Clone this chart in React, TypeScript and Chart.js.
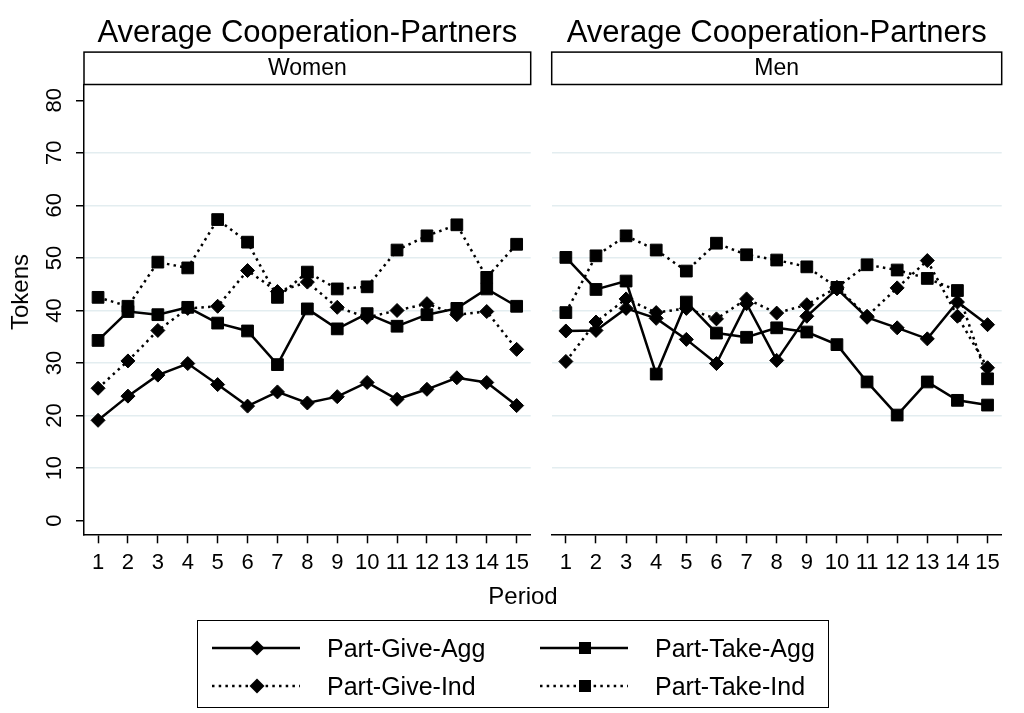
import React, { useEffect, useRef } from 'react';
import { Chart, registerables } from 'chart.js';

Chart.register(...registerables);

const FONT = "'Liberation Sans', Arial, sans-serif";
const GRID = '#e3edf0';

const periods = [1, 2, 3, 4, 5, 6, 7, 8, 9, 10, 11, 12, 13, 14, 15];
const yTicks = [0, 10, 20, 30, 40, 50, 60, 70, 80];
const seriesNames = ['Part-Give-Agg', 'Part-Take-Agg', 'Part-Give-Ind', 'Part-Take-Ind'];
const panelTitle = 'Average Cooperation-Partners';
const panelLabels = ['Women', 'Men'];
const xTitle = 'Period';
const yTitle = 'Tokens';

// Women
const womenGiveAgg = [19.1, 23.7, 27.7, 29.9, 25.9, 21.8, 24.5, 22.4, 23.6, 26.3, 23.1, 25.0, 27.2, 26.3, 21.9];
const womenTakeAgg = [34.3, 39.8, 39.2, 40.6, 37.6, 36.1, 29.7, 40.3, 36.5, 39.4, 37.0, 39.2, 40.4, 44.1, 40.8];
const womenGiveInd = [25.2, 30.4, 36.2, 40.4, 40.8, 47.6, 43.6, 45.4, 40.6, 38.7, 40.0, 41.3, 39.2, 39.8, 32.6];
const womenTakeInd = [42.5, 40.8, 49.2, 48.1, 57.3, 53.0, 42.5, 47.3, 44.1, 44.5, 51.5, 54.2, 56.3, 46.3, 52.6];

// Men
const menGiveAgg = [36.1, 36.2, 40.4, 38.5, 34.5, 29.9, 41.3, 30.5, 38.9, 44.1, 38.7, 36.7, 34.6, 41.6, 37.3];
const menTakeAgg = [50.1, 44.0, 45.6, 27.9, 41.6, 35.7, 34.9, 36.7, 35.9, 33.5, 26.4, 20.1, 26.4, 22.9, 22.0];
const menGiveInd = [30.3, 37.8, 42.2, 39.6, 40.4, 38.4, 42.2, 39.5, 41.1, 44.4, 38.9, 44.3, 49.5, 38.9, 29.1];
const menTakeInd = [39.6, 50.4, 54.2, 51.5, 47.5, 52.8, 50.6, 49.6, 48.3, 44.4, 48.7, 47.7, 46.1, 43.8, 27.0];

const DOT = [2.5, 4.2];
const seriesStyles = [
  { pointStyle: 'rectRot', radius: 7, dash: [] as number[] },
  { pointStyle: 'rect', radius: 8.3, dash: [] as number[] },
  { pointStyle: 'rectRot', radius: 7, dash: DOT },
  { pointStyle: 'rect', radius: 8.3, dash: DOT },
];

const CANVAS_H = 585;
const AREA_BOTTOM = 534.3;

const stripBoxPlugin = {
  id: 'stripBox',
  afterDraw(chart: any, _args: any, opts: any) {
    const box = chart.boxes.find((b: any) => b && b.options && b.options.text === opts.text);
    if (!box) return;
    const ctx = chart.ctx;
    ctx.save();
    ctx.strokeStyle = '#000';
    ctx.lineWidth = 1.5;
    ctx.strokeRect(box.left, box.top, box.right - box.left, box.bottom - box.top);
    ctx.restore();
  },
};

function buildConfig(strip: string, vals: number[][], isLeft: boolean, padRight: number, yWidth: number): any {
  const datasets = vals.map((v, i) => ({
    label: seriesNames[i],
    data: periods.map((p, j) => ({ x: p, y: v[j] })),
    borderColor: '#000',
    backgroundColor: '#000',
    borderWidth: 2.5,
    borderDash: seriesStyles[i].dash,
    borderCapStyle: 'butt',
    pointStyle: seriesStyles[i].pointStyle,
    pointRadius: seriesStyles[i].radius,
    pointBorderWidth: 1,
    pointBackgroundColor: '#000',
    pointBorderColor: '#000',
    tension: 0,
    fill: false,
  }));
  return {
    type: 'line',
    data: { datasets },
    plugins: [stripBoxPlugin],
    options: {
      animation: false,
      responsive: false,
      events: [],
      layout: { padding: { top: 0, left: 0, bottom: 0, right: padRight } },
      plugins: {
        legend: { display: false },
        tooltip: { enabled: false },
        title: {
          display: true,
          text: panelTitle,
          fullSize: false,
          color: '#000',
          font: { family: FONT, size: 31, weight: 'normal' },
          padding: { top: 14.5, bottom: 0.4 },
        },
        subtitle: {
          display: true,
          text: strip,
          fullSize: false,
          color: '#000',
          font: { family: FONT, size: 23, weight: 'normal' },
          padding: { top: 2.4, bottom: 2.4 },
        },
        stripBox: { text: strip },
      },
      scales: {
        x: {
          type: 'linear',
          min: 0.53,
          max: 15.47,
          afterBuildTicks: (s: any) => {
            s.ticks = periods.map((v) => ({ value: v }));
          },
          afterFit: (s: any) => {
            s.height = CANVAS_H - AREA_BOTTOM;
          },
          ticks: {
            autoSkip: false,
            maxRotation: 0,
            minRotation: 0,
            padding: 6.5,
            color: '#000',
            font: { family: FONT, size: 22 },
            callback: (v: any) => String(v),
          },
          grid: {
            display: true,
            drawOnChartArea: false,
            drawTicks: true,
            tickLength: 9,
            tickWidth: 1.5,
            tickColor: '#000',
            color: '#000',
          },
          border: { display: true, color: '#000', width: 1.5 },
        },
        y: {
          type: 'linear',
          min: -2.59,
          max: 83.0,
          afterBuildTicks: (s: any) => {
            s.ticks = yTicks.map((v) => ({ value: v }));
          },
          afterFit: (s: any) => {
            s.width = yWidth;
          },
          ticks: {
            display: isLeft,
            minRotation: 90,
            maxRotation: 90,
            crossAlign: 'center',
            padding: 8.8,
            color: '#000',
            font: { family: FONT, size: 22 },
            callback: (v: any) => String(v),
          },
          grid: {
            color: (ctx: any) =>
              ctx.tick && (ctx.tick.value === yTicks[0] || ctx.tick.value === yTicks[yTicks.length - 1])
                ? 'rgba(0,0,0,0)'
                : GRID,
            lineWidth: 1.5,
            drawTicks: isLeft,
            tickLength: 8,
            tickColor: '#000',
            tickWidth: 1.5,
          },
          border: { display: isLeft, color: '#000', width: 1.5 },
        },
      },
    },
  };
}

function LegendSample({ x, y, dashed, diamond }: { x: number; y: number; dashed: boolean; diamond: boolean }) {
  const mid = x + 45;
  return (
    <g>
      <line
        x1={x}
        y1={y}
        x2={x + 88}
        y2={y}
        stroke="#000"
        strokeWidth={2.5}
        strokeDasharray={dashed ? DOT.join(' ') : undefined}
      />
      {diamond ? (
        <polygon points={`${mid - 7.5},${y} ${mid},${y - 7.5} ${mid + 7.5},${y} ${mid},${y + 7.5}`} fill="#000" />
      ) : (
        <rect x={mid - 6} y={y - 6} width={12} height={12} fill="#000" />
      )}
    </g>
  );
}

export default function App() {
  const leftRef = useRef<HTMLCanvasElement>(null);
  const rightRef = useRef<HTMLCanvasElement>(null);

  useEffect(() => {
    document.body.style.margin = '0';
    const c1 = new Chart(
      leftRef.current as HTMLCanvasElement,
      buildConfig(panelLabels[0], [womenGiveAgg, womenTakeAgg, womenGiveInd, womenTakeInd], true, 7, 84)
    );
    const c2 = new Chart(
      rightRef.current as HTMLCanvasElement,
      buildConfig(panelLabels[1], [menGiveAgg, menTakeAgg, menGiveInd, menTakeInd], false, 22.3, 11.7)
    );
    return () => {
      c1.destroy();
      c2.destroy();
    };
  }, []);

  const legendCols = [212, 540];
  const legendRows = [648, 686];
  const legendItems = seriesNames.map((name, i) => ({
    name,
    x: legendCols[i % 2],
    y: legendRows[Math.floor(i / 2)],
    dashed: i >= 2,
    diamond: i % 2 === 0,
  }));

  const textStyle: React.CSSProperties = {
    position: 'absolute',
    fontFamily: FONT,
    color: '#000',
    lineHeight: 1,
    whiteSpace: 'nowrap',
  };

  return (
    <div style={{ position: 'absolute', left: 0, top: 0, width: 1024, height: 713, background: '#fff', overflow: 'hidden' }}>
      <canvas
        ref={leftRef}
        width={540}
        height={CANVAS_H}
        style={{ position: 'absolute', left: 0, top: 0, width: 540, height: CANVAS_H, display: 'block' }}
      />
      <canvas
        ref={rightRef}
        width={484}
        height={CANVAS_H}
        style={{ position: 'absolute', left: 540, top: 0, width: 484, height: CANVAS_H, display: 'block' }}
      />
      <div
        style={{
          ...textStyle,
          fontSize: 24,
          left: 20,
          top: 292,
          transform: 'translate(-50%, -50%) rotate(-90deg)',
        }}
      >
        {yTitle}
      </div>
      <div style={{ ...textStyle, fontSize: 24, left: 523, top: 596, transform: 'translate(-50%, -50%)' }}>{xTitle}</div>
      <div
        style={{
          position: 'absolute',
          left: 197,
          top: 620,
          width: 632,
          height: 88,
          border: '1.5px solid #000',
          boxSizing: 'border-box',
        }}
      />
      <svg width={1024} height={713} style={{ position: 'absolute', left: 0, top: 0 }}>
        {legendItems.map((it) => (
          <LegendSample key={it.name} x={it.x} y={it.y} dashed={it.dashed} diamond={it.diamond} />
        ))}
      </svg>
      {legendItems.map((it) => (
        <div
          key={it.name + '-t'}
          style={{ ...textStyle, fontSize: 25, left: it.x + 115, top: it.y, transform: 'translateY(-50%)' }}
        >
          {it.name}
        </div>
      ))}
    </div>
  );
}
